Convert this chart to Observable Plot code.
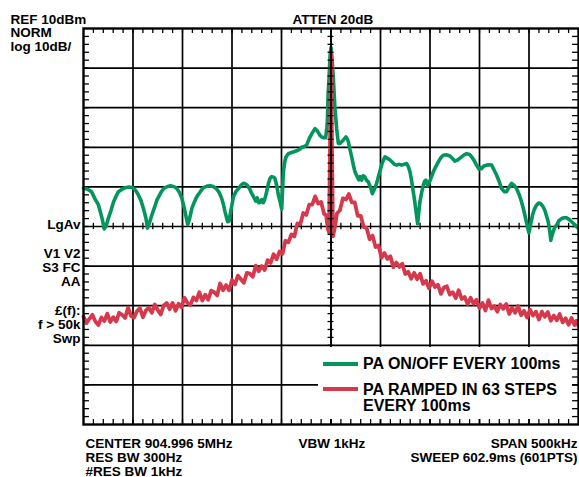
<!DOCTYPE html>
<html><head><meta charset="utf-8">
<script src="https://cdn.jsdelivr.net/npm/d3@7"></script>
<script src="https://cdn.jsdelivr.net/npm/@observablehq/plot@0.6"></script>
<style>
body{margin:0;background:#fff;}
#wrap{position:relative;width:579px;height:477px;font-family:"Liberation Sans",Arial,sans-serif;font-weight:bold;color:#000;}
#legend{position:absolute;left:318px;top:347px;width:254px;height:72px;background:#fff;}
.sw{position:absolute;left:5px;width:35px;height:4px;}
.lt{position:absolute;left:45px;font-size:16px;line-height:16px;white-space:nowrap;}
</style></head><body><div id="wrap"></div>
<script>
// Frequency offset from center (kHz) and level (dBm)
const greenFreq = [-250,-246,-242,-238,-235,-233,-231,-229,-227,-225,-222,-219.7,-217,-214.7,-211,-208,-204,-200,-197,-194.5,-192,-189.4,-187,-185.4,-183,-181,-178,-176,-172,-169,-165,-162,-158,-155.8,-153,-150.7,-149,-147.4,-146,-144.7,-143,-140.6,-138,-135.6,-132,-128.9,-125,-122,-119,-116,-113,-110.4,-108.5,-107,-105.5,-104.3,-102.8,-102,-100,-98.6,-96,-93.5,-90.5,-88.5,-86,-84.4,-82,-80,-78,-76,-74.5,-73,-71.7,-70,-68.5,-67.3,-65.5,-63.2,-61.5,-59.9,-57.5,-56.5,-55,-53.1,-51,-49.8,-48.8,-48.1,-46.5,-45.4,-43,-39.7,-36,-33,-31,-29.6,-27,-24.5,-22,-19.5,-17,-16.1,-14,-12.8,-11,-9.4,-7,-5.4,-4.2,-3.7,-2.8,-2,-1,0,1,2.4,4,5.7,7.4,9,10.8,13,15.1,16.5,17.5,19,20.9,22.5,24.2,26,28,29.3,31,32.5,34.3,36,37.7,39,40.5,41.7,43.5,46.1,48,50.1,52,54.5,57,59.6,62,64,66.3,69,71.3,74,76.4,78,79.8,81.5,83.1,84.5,85.5,86.6,87.5,88.5,89.8,91.5,93.2,94.5,95.9,97.5,98.9,101,103.3,106,108.4,111,113.4,117,120.1,123,125.1,128,131.9,134.5,137,140,142,144.5,147,149.5,151,152.1,154.5,157.1,160,162.2,164.5,167.2,169.8,172.3,175,177.3,180,182.4,185,187.4,190,192.5,194.2,195.8,197.8,199.9,201.5,203.6,205.5,207.6,209.5,211.7,214,216,218,219.4,221,222,224,226,227.8,230,232.9,235.5,237.9,240.5,243,246.5,250];
const greenLevel = [-30.3,-30.6,-31.2,-33.2,-34.5,-36.3,-38.2,-40.6,-39.8,-38,-35.8,-33.8,-32.3,-31.2,-30.6,-30.2,-30.0,-30.2,-31.0,-32.1,-33.4,-35.5,-37.8,-40.4,-38.8,-37.1,-35.0,-33.4,-31.5,-30.4,-29.9,-29.7,-30.0,-30.4,-31.4,-32.9,-34.5,-36.3,-38,-39.5,-38.2,-35.5,-33.8,-32.5,-31.2,-30.2,-29.8,-29.7,-29.9,-30.4,-31.4,-32.9,-34.6,-36.3,-37.8,-38.8,-38.6,-37.1,-34.5,-32.5,-31.2,-30.4,-29.5,-29.1,-29.3,-29.6,-30.6,-31.7,-32.6,-33.6,-32.8,-34.0,-33.9,-33.2,-34.0,-33.4,-31.8,-29.1,-27.8,-27.4,-27.6,-28.0,-29.5,-32.1,-34.2,-35.6,-30,-26.2,-23.4,-22.4,-21.6,-21.3,-21.0,-20.7,-20.4,-20.0,-19.8,-19.4,-17.8,-16.6,-15.6,-15.3,-15.8,-16.3,-17.0,-17.4,-17.6,-17.6,-15,-13.6,-6,-2.6,3,5.2,2.5,-2.6,-10.2,-15.3,-19,-19.0,-18.6,-18.0,-17.4,-17.9,-18.6,-20.4,-22.4,-24.4,-26.2,-27.2,-28.2,-27.4,-28.3,-27.2,-27.5,-28.4,-28.7,-29.6,-30.5,-31.7,-30.8,-29.1,-27.3,-25.4,-23.8,-22.4,-22.8,-23.2,-23.8,-24.3,-24.5,-24.3,-24.5,-24.3,-24.1,-24.8,-26.2,-28.5,-31.2,-33.5,-35.5,-37.6,-39.3,-36.8,-33.8,-31.5,-29.6,-28.6,-28.3,-29.6,-29.1,-27.8,-26.2,-24.8,-23.7,-22.6,-22.0,-21.9,-22.2,-22.9,-23.5,-23.2,-22.4,-21.9,-21.6,-21.8,-22.4,-23.3,-24.5,-25.5,-25.1,-25.4,-24.7,-24.5,-24.4,-24.5,-25.6,-27,-28.6,-30.4,-31.2,-31.2,-30.0,-29.1,-29.6,-30.4,-31.9,-33.8,-35.4,-37.1,-39.3,-41.6,-39.6,-37.1,-35.6,-34.6,-34.1,-34.2,-34.9,-35.9,-37.6,-38.8,-41.2,-43.5,-41.6,-40.2,-39.7,-38.6,-38.0,-37.8,-37.8,-38.2,-38.8,-39.6,-40.5];

const redFreq = [-250,-247,-244,-241,-238,-235,-232,-229,-226,-223,-220,-217,-214,-211,-208,-205,-202,-199,-196,-193,-190,-187,-184,-181,-178,-175,-172,-169,-166,-163,-160,-157,-154,-151,-148,-145,-142,-139,-136,-133,-130,-127,-124,-121,-118,-115,-112,-109,-106,-103,-100,-97,-94,-91,-88,-85,-82,-79,-76,-73,-70,-67,-64,-61,-58,-55,-52,-49,-46,-43,-40,-37,-34,-31,-28,-25,-22,-19,-16,-13,-10,-7,-5,-3,-2,-1,0,1,2,4,6,9,12,15,18,21,24,27,30,33,36,39,42,45,48,51,54,57,60,63,66,69,72,75,78,81,84,87,90,93,96,99,102,105,108,111,114,117,120,123,126,129,132,135,138,141,144,147,150,153,156,159,162,165,168,171,174,177,180,183,186,189,192,195,198,201,204,207,210,213,216,219,222,225,228,231,234,237,240,243,246,248,250];
const redLevel = [-62.7,-64.4,-63.3,-62.3,-64.0,-64.9,-63.0,-63.9,-62.0,-64.1,-62.9,-64.0,-61.8,-62.3,-63.1,-60.5,-62.6,-63.0,-61.4,-60.6,-62.9,-61.2,-60.5,-61.8,-59.7,-61.1,-62.2,-60.0,-59.3,-60.9,-59.3,-61.3,-59.5,-60.4,-58.0,-59.3,-59.8,-57.9,-58.7,-56.6,-58.7,-57.2,-58.5,-56.2,-56.6,-57.4,-54.4,-56.1,-54.8,-56.1,-53.5,-54.6,-52.4,-53.3,-54.2,-51.7,-51.9,-52.7,-49.9,-51.3,-50.0,-51.0,-48.5,-49.2,-47.0,-48.3,-46.3,-46.9,-43.6,-44.0,-42.0,-42.5,-39.2,-39.4,-36.6,-37.1,-34.5,-34.5,-32.4,-34.2,-33.8,-36.8,-37.1,-40.8,-41.5,-20,4,-20,-42.5,-40.1,-36.7,-35.9,-32.9,-33.2,-31.8,-33.9,-33.9,-37.3,-37.3,-40.1,-40.4,-43.2,-42.3,-45.2,-44.8,-47.9,-46.7,-48.2,-47.5,-50.3,-49.1,-50.2,-49.4,-52.0,-51.4,-53.2,-51.7,-53.3,-51.9,-54.5,-53.7,-55.6,-53.8,-55.3,-54.7,-57.0,-55.4,-55.1,-57.2,-56.6,-58.1,-56.1,-58.3,-57.8,-59.6,-58.0,-59.5,-58.5,-60.6,-59.3,-61.2,-58.6,-60.7,-60.1,-61.5,-59.7,-60.8,-59.6,-62.1,-60.5,-61.8,-60.1,-62.4,-61.3,-63.0,-61.0,-62.5,-61.5,-63.5,-61.5,-62.8,-61.6,-63.8,-62.5,-63.7,-62.1,-64.2,-63.2,-64.8,-63.1,-64.9,-63.8,-65.1];

const xMajor = [-200,-150,-100,-50,0,50,100,150,200];
const yMajor = [0,-10,-20,-30,-40,-50,-60,-70,-80];
const xMinor = d3.range(-240, 250, 10);
const yMinor = d3.range(-88, 10, 2);

const headerLeft = ["REF 10dBm","NORM","log 10dB/"];
const headerCenter = "ATTEN 20dB";
const sideLabels = ["LgAv","V1 V2","S3 FC","AA","£(f):","f > 50k","Swp"];
const footLeft = ["CENTER 904.996 5MHz","RES BW 300Hz","#RES BW 1kHz"];
const footCenter = "VBW 1kHz";
const footRight = ["SPAN 500kHz","SWEEP 602.9ms (601PTS)"];
const seriesNames = ["PA ON/OFF EVERY 100ms","PA RAMPED IN 63 STEPS\nEVERY 100ms"];
const colors = ["#03955b","#d6384c"];

const green = greenFreq.map((f,i)=>({f, v: greenLevel[i]}));
const red = redFreq.map((f,i)=>({f, v: redLevel[i]}));

const font = {fontFamily:"Liberation Sans, Arial, sans-serif", fontSize:13.5, fontWeight:"bold", fill:"black", lineAnchor:"bottom"};
const lab = (s, frameAnchor, dx, dy, textAnchor) => Plot.text([s], {text:d=>d, frameAnchor, dx, dy, textAnchor, ...font});

const sideDy = [2,31,45,59,88,102,116];

const chart = Plot.plot({
  width:579, height:477,
  marginLeft:83, marginRight:1, marginTop:28, marginBottom:53,
  x:{domain:[-250,250], axis:null},
  y:{domain:[-90,10], axis:null},
  marks:[
    Plot.ruleX(xMajor, {stroke:"black", strokeWidth:1.7}),
    Plot.ruleY(yMajor, {stroke:"black", strokeWidth:1.7}),
    // border minor ticks
    Plot.ruleX(xMinor, {y1:10, y2:8.75, stroke:"black", strokeWidth:1.3}),
    Plot.ruleX(xMinor, {y1:-90, y2:-88.75, stroke:"black", strokeWidth:1.3}),
    Plot.ruleY(yMinor, {x1:-250, x2:-244, stroke:"black", strokeWidth:1.3}),
    Plot.ruleY(yMinor, {x1:250, x2:244, stroke:"black", strokeWidth:1.3}),
    // center horizontal ticks
    Plot.ruleX(xMinor, {y1:-40.8, y2:-39.2, stroke:"black", strokeWidth:1.3}),
    Plot.line(green, {x:"f", y:"v", stroke:colors[0], strokeWidth:3.6, strokeLinejoin:"round", strokeLinecap:"round"}),
    Plot.line(red, {x:"f", y:"v", stroke:colors[1], strokeWidth:3.8, strokeLinejoin:"round", strokeLinecap:"round"}),
    // center vertical line with ticks, on top
    Plot.ruleX([0], {stroke:"black", strokeWidth:1.7}),
    Plot.ruleY(yMinor, {x1:-3, x2:3, stroke:"black", strokeWidth:1.3}),
    Plot.frame({stroke:"black", strokeWidth:2.4}),
    lab(headerLeft[0], "top-left", -73, -5, "start"),
    lab(headerLeft[1], "top-left", -73, 8.5, "start"),
    lab(headerLeft[2], "top-left", -73, 22, "start"),
    lab(headerCenter, "top", -38.5, -5, "start"),
    ...sideLabels.map((s,i)=>lab(s, "left", -3, sideDy[i], "end")),
    lab(footLeft[0], "bottom-left", 2, 23, "start"),
    lab(footLeft[1], "bottom-left", 2, 37, "start"),
    lab(footLeft[2], "bottom-left", 2, 51, "start"),
    lab(footCenter, "bottom", -32.5, 23, "start"),
    lab(footRight[0], "bottom-right", -1, 23, "end"),
    lab(footRight[1], "bottom-right", -1, 37, "end")
  ]
});
const wrap = document.getElementById("wrap");
wrap.appendChild(chart);

const legend = document.createElement("div");
legend.id = "legend";
const swTops = [15, 40];
const txtTops = [8.5, 34.5];
seriesNames.forEach((name,i)=>{
  const sw = document.createElement("div");
  sw.className = "sw"; sw.style.top = swTops[i]+"px"; sw.style.background = colors[i];
  legend.appendChild(sw);
  const t = document.createElement("div");
  t.className = "lt"; t.style.top = txtTops[i]+"px";
  name.split("\n").forEach((line,j)=>{ if(j) t.appendChild(document.createElement("br")); t.appendChild(document.createTextNode(line)); });
  legend.appendChild(t);
});
wrap.appendChild(legend);
</script>
</body></html>
